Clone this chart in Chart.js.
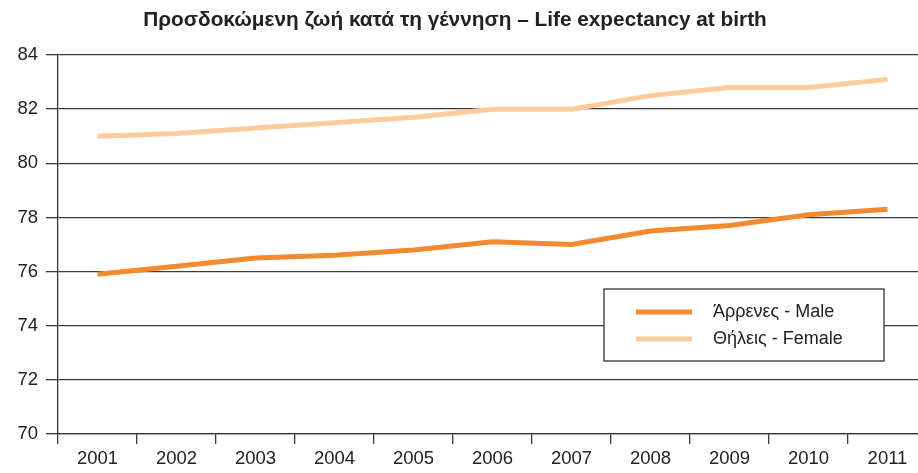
<!DOCTYPE html>
<html>
<head>
<meta charset="utf-8">
<script src="https://cdn.jsdelivr.net/npm/chart.js@4"></script>
<style>
  html, body { margin: 0; padding: 0; background: #fff; overflow: hidden; }
  #wrap { width: 927px; height: 473px; position: relative; }
</style>
</head>
<body>
<div id="wrap"><canvas id="myChart"></canvas></div>
<script>
const years = ['2001', '2002', '2003', '2004', '2005', '2006', '2007', '2008', '2009', '2010', '2011'];
const male = [75.9, 76.2, 76.5, 76.6, 76.8, 77.1, 77.0, 77.5, 77.7, 78.1, 78.3];
const female = [81.0, 81.1, 81.3, 81.5, 81.7, 82.0, 82.0, 82.5, 82.8, 82.8, 83.1];
const yTicks = [70, 72, 74, 76, 78, 80, 82, 84];
const titleText = 'Προσδοκώμενη ζωή κατά τη γέννηση – Life expectancy at birth';

const FONT = '"Liberation Sans", Arial, Helvetica, sans-serif';
const ink = '#222';
const gridColor = '#3a3a3a';

// title is centred on the visible 918px window, not the wider canvas
const topTitle = {
    id: 'topTitle',
    afterDraw(chart) {
        const c = chart.ctx;
        c.save();
        c.font = 'bold 20.8px ' + FONT;
        c.fillStyle = ink;
        c.textAlign = 'center';
        c.textBaseline = 'middle';
        c.fillText(titleText, 455, 20);
        c.restore();
    }
};

// legend box inside the plot, bottom-right
const boxLegend = {
    id: 'boxLegend',
    afterDatasetsDraw(chart) {
        const c = chart.ctx;
        const a = chart.chartArea;
        const x = a.left + 546, y = a.top + 234, w = 280, h = 72;
        c.save();
        c.fillStyle = '#fff';
        c.fillRect(x, y, w, h);
        c.strokeStyle = '#333';
        c.lineWidth = 1.3;
        c.strokeRect(x, y, w, h);
        c.font = '18px ' + FONT;
        c.textAlign = 'left';
        c.textBaseline = 'middle';
        chart.data.datasets.forEach((ds, i) => {
            const ly = y + 23 + i * 27;
            c.strokeStyle = ds.borderColor;
            c.lineWidth = 5;
            c.beginPath();
            c.moveTo(x + 32, ly);
            c.lineTo(x + 88, ly);
            c.stroke();
            c.fillStyle = ink;
            c.fillText(ds.label, x + 109, ly);
        });
        c.restore();
    }
};

const ctx = document.getElementById('myChart').getContext('2d');

new Chart(ctx, {
    type: 'line',
    data: {
        labels: years,
        datasets: [
            {
                label: 'Άρρενες - Male',
                data: male,
                borderColor: '#f28a30',
                borderWidth: 5,
                pointRadius: 0,
                tension: 0
            },
            {
                label: 'Θήλεις - Female',
                data: female,
                borderColor: '#fdcb9c',
                borderWidth: 5,
                pointRadius: 0,
                tension: 0
            }
        ]
    },
    options: {
        responsive: true,
        maintainAspectRatio: false,
        animation: false,
        layout: { padding: { top: 55 } },
        plugins: {
            legend: { display: false },
            tooltip: { enabled: false },
            title: { display: false }
        },
        scales: {
            x: {
                offset: true,
                grid: {
                    offset: true,
                    drawOnChartArea: false,
                    drawTicks: true,
                    tickLength: 10,
                    color: gridColor,
                    lineWidth: 1.3
                },
                border: { display: true, color: gridColor, width: 1.3 },
                ticks: {
                    color: ink,
                    font: { family: FONT, size: 18.5 },
                    padding: 4,
                    maxRotation: 0,
                    autoSkip: false
                },
                afterFit(scale) { scale.height = 39; }
            },
            y: {
                min: 70,
                max: 84,
                afterBuildTicks(scale) {
                    scale.ticks = yTicks.map(v => ({ value: v }));
                },
                grid: {
                    color: gridColor,
                    lineWidth: 1.3,
                    tickLength: 12
                },
                border: { display: true, color: gridColor, width: 1.3 },
                ticks: {
                    color: ink,
                    font: { family: FONT, size: 18.5 },
                    padding: 8
                },
                afterFit(scale) { scale.width = 58; }
            }
        }
    },
    plugins: [boxLegend, topTitle]
});
</script>
</body>
</html>
